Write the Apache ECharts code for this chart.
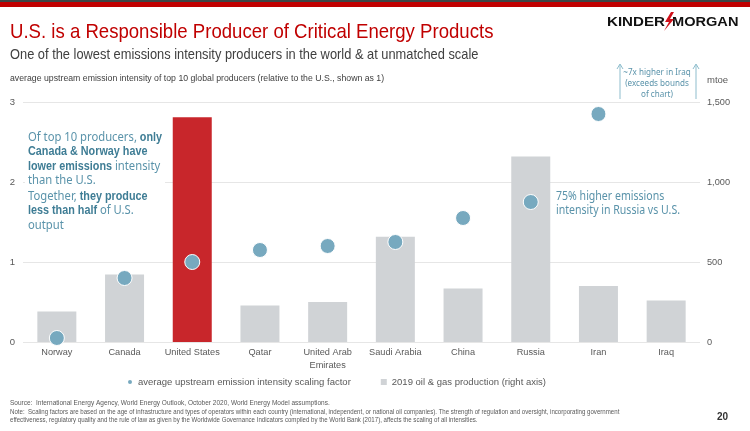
<!DOCTYPE html>
<html><head><meta charset="utf-8">
<script src="https://cdn.jsdelivr.net/npm/echarts@6/dist/echarts.min.js"></script>
<style>html,body{margin:0;padding:0;background:#fff}#c{width:750px;height:431px}</style>
</head><body><div id="c"></div>
<script>
const categories = ['Norway','Canada','United States','Qatar','United Arab\nEmirates','Saudi Arabia','China','Russia','Iran','Iraq'];
const intensity = [0.05, 0.80, 1.00, 1.15, 1.20, 1.25, 1.55, 1.75, 2.85, 7];
const production = [190, 422, 1405, 228, 250, 658, 335, 1160, 350, 260];
const leftTicks = [0, 1, 2, 3];
const rightTicks = [0, 500, 1000, 1500];

const NARROW = '"Liberation Sans", Arial, sans-serif';
const SANS = '"Noto Sans", "Open Sans", sans-serif';
const teal = '#5a93aa', tealB = '#3f7d95';
const chart = echarts.init(document.getElementById('c'), null, {renderer:'canvas'});

chart.setOption({
  animation: false,
  backgroundColor: '#fff',
  grid: {left: 23, right: 50, top: 102, bottom: 89},
  legend: {
    left: 121, top: 372, itemWidth: 6, itemHeight: 6, itemGap: 30,
    textStyle: {fontFamily: NARROW, fontSize: 9.5, color: '#595959'},
    data: [{name: 'average upstream emission intensity scaling factor', icon: 'circle', itemStyle:{color:'#77a9bf'}},
           {name: '2019 oil & gas production (right axis)', icon: 'rect', itemStyle:{color:'#d0d3d6'}}]
  },
  xAxis: {
    type: 'category', data: categories,
    axisLine: {show: false}, axisTick: {show: false},
    axisLabel: {fontFamily: NARROW, fontSize: 9.2, color: '#595959', margin: 4, lineHeight: 13, interval: 0}
  },
  yAxis: [
    {type: 'value', min: 0, max: 3, interval: 1,
     axisLabel: {fontFamily: NARROW, fontSize: 9.5, color: '#595959', margin: 8},
     splitLine: {lineStyle: {color: '#e6e6e6', width: 1.2}}},
    {type: 'value', min: 0, max: 1500, interval: 500,
     axisLabel: {fontFamily: NARROW, fontSize: 9.2, color: '#595959', margin: 7,
       formatter: v => v.toLocaleString('en-US')},
     splitLine: {show: false}}
  ],
  series: [
    {name: 'average upstream emission intensity scaling factor', type: 'scatter', yAxisIndex: 0, z: 5,
     clip: true, data: intensity, symbolSize: 15,
     itemStyle: {color: '#77a9bf', borderColor: '#fff', borderWidth: 1, opacity: 1}},
    {name: '2019 oil & gas production (right axis)', type: 'bar', yAxisIndex: 1, barWidth: 39,
     data: production.map((v, i) => categories[i] === 'United States' ? {value: v, itemStyle: {color: '#c8262b'}} : v),
     itemStyle: {color: '#d0d3d6'}}
  ],
  graphic: [
    {type: 'rect', shape: {x: 0, y: 0, width: 750, height: 2}, style: {fill: '#3d4646'}},
    {type: 'rect', shape: {x: 0, y: 2, width: 750, height: 5}, style: {fill: '#c00000'}},
    {type: 'text', x: 10, y: 22, scaleX: 0.885, style: {text: 'U.S. is a Responsible Producer of Critical Energy Products', fill: '#c00000', font: '21px ' + NARROW}},
    {type: 'text', x: 10, y: 47, scaleX: 0.886, style: {text: 'One of the lowest emissions intensity producers in the world & at unmatched scale', fill: '#404040', font: '14.5px ' + NARROW}},
    {type: 'text', x: 10, y: 74, scaleX: 0.97, style: {text: 'average upstream emission intensity of top 10 global producers (relative to the U.S., shown as 1)', fill: '#404040', font: '9px ' + NARROW}},
    {type: 'text', x: 607, y: 15, scaleX: 1.12, style: {text: 'KINDER', fill: '#111', font: 'bold 13.5px "Liberation Sans", sans-serif'}},
    {type: 'text', x: 672, y: 15, scaleX: 1.08, style: {text: 'MORGAN', fill: '#111', font: 'bold 13.5px "Liberation Sans", sans-serif'}},
    {type: 'polygon', shape: {points: [[671,12],[665,22],[669,22],[664,31],[674,19],[670,19],[674,12]]}, style: {fill: '#d0101a'}},
    {type: 'text', left: 707, top: 75, style: {text: 'mtoe', fill: '#595959', font: '9.5px ' + NARROW}},
    {type: 'text', x: 657, y: 67, scaleX: 0.9, style: {text: '~7x higher in Iraq\n(exceeds bounds\nof chart)', fill: teal, font: '9px ' + SANS, align: 'center', lineHeight: 11}},
    {type: 'line', shape: {x1: 620, y1: 99, x2: 620, y2: 65}, style: {stroke: '#8ebdcd', lineWidth: 1}},
    {type: 'polyline', shape: {points: [[617,69],[620,64],[623,69]]}, style: {stroke: '#8ebdcd', lineWidth: 1, fill: null}},
    {type: 'line', shape: {x1: 696, y1: 99, x2: 696, y2: 65}, style: {stroke: '#8ebdcd', lineWidth: 1}},
    {type: 'polyline', shape: {points: [[693,69],[696,64],[699,69]]}, style: {stroke: '#8ebdcd', lineWidth: 1, fill: null}},
    {type: 'rect', z: 100, shape: {x: 25, y: 122, width: 140, height: 110}, style: {fill: '#ffffff'}},
    {type: 'text', z: 101, x: 28, y: 130, scaleX: 0.9, style: {
      text: 'Of top 10 producers, {b|only}\n{b|Canada & Norway have}\n{b|lower emissions} intensity\nthan the U.S.',
      fill: teal, font: '12.5px ' + SANS, lineHeight: 14.5,
      rich: {b: {fontWeight: 'bold', fill: tealB, font: 'bold 12.5px ' + SANS, lineHeight: 14.5}}}},
    {type: 'text', z: 101, x: 28, y: 189, scaleX: 0.9, style: {
      text: 'Together, {b|they produce}\n{b|less than half} of U.S.\noutput',
      fill: teal, font: '12.5px ' + SANS, lineHeight: 14.5,
      rich: {b: {fontWeight: 'bold', fill: tealB, font: 'bold 12.5px ' + SANS, lineHeight: 14.5}}}},
    {type: 'text', x: 556, y: 190, scaleX: 0.88, style: {text: '75% higher emissions\nintensity in Russia vs U.S.', fill: teal, font: '12px ' + SANS, lineHeight: 14}},
    {type: 'text', x: 10, y: 400, style: {text: 'Source:  International Energy Agency, World Energy Outlook, October 2020, World Energy Model assumptions.', fill: '#595959', font: '6.5px ' + NARROW}},
    {type: 'text', x: 10, y: 408, scaleX: 0.94, style: {text: 'Note:  Scaling factors are based on the age of infrastructure and types of operators within each country (international, independent, or national oil companies). The strength of regulation and oversight, incorporating government\neffectiveness, regulatory quality and the rule of law as given by the Worldwide Governance Indicators compiled by the World Bank (2017), affects the scaling of all intensities.', fill: '#595959', font: '6.5px ' + NARROW, lineHeight: 8}},
    {type: 'text', x: 717, y: 412, style: {text: '20', fill: '#333', font: 'bold 10px "Liberation Sans", sans-serif'}}
  ]
});
</script></body></html>
